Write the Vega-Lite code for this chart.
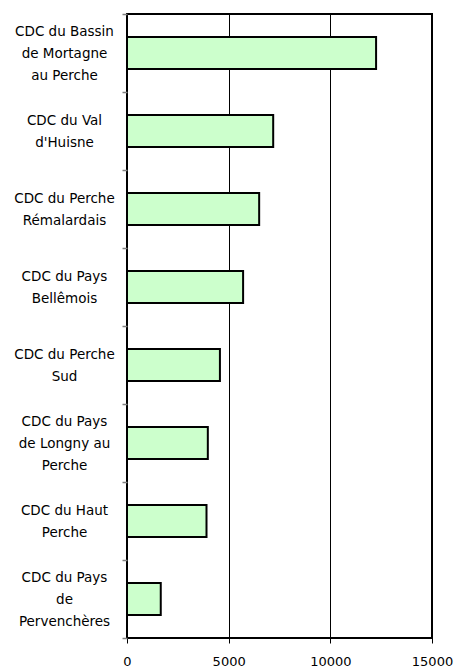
{
  "$schema": "https://vega.github.io/schema/vega-lite/v6.json",
  "width": 305,
  "height": 624,
  "autosize": {"type": "none"},
  "padding": {"left": 127, "top": 14, "right": 22, "bottom": 30},
  "background": "white",
  "config": {
    "view": {"stroke": "black", "strokeWidth": 2},
    "font": "DejaVu Sans"
  },
  "data": {
    "values": [
      {"name": "CDC du Bassin|de Mortagne|au Perche", "value": 12250},
      {"name": "CDC du Val|d'Huisne", "value": 7190},
      {"name": "CDC du Perche|Rémalardais", "value": 6500},
      {"name": "CDC du Pays|Bellêmois", "value": 5710},
      {"name": "CDC du Perche|Sud", "value": 4570},
      {"name": "CDC du Pays|de Longny au|Perche", "value": 3975},
      {"name": "CDC du Haut|Perche", "value": 3910},
      {"name": "CDC du Pays|de|Pervenchères", "value": 1660}
    ]
  },
  "mark": {"type": "bar", "fill": "#ccffcc", "stroke": "black", "strokeWidth": 2, "height": {"band": 0.41}},
  "encoding": {
    "y": {
      "field": "name",
      "type": "nominal",
      "sort": null,
      "scale": {"paddingInner": 0, "paddingOuter": 0},
      "axis": {
        "title": null,
        "domain": false,
        "tickBand": "extent",
        "tickOffset": 0,
        "tickSize": 5,
        "tickColor": "#808080",
        "tickWidth": 1.5,
        "labelExpr": "split(datum.label, '|')",
        "labelAlign": "center",
        "labelBaseline": "middle",
        "labelOffset": {"condition": {"test": "length(split(datum.value, '|')) == 3", "value": -22}, "value": -11},
        "labelPadding": 58,
        "labelLineHeight": 22,
        "labelFontSize": 13.5,
        "labelColor": "black",
        "labelFont": "DejaVu Sans",
        "labelLimit": 0
      }
    },
    "x": {
      "field": "value",
      "type": "quantitative",
      "scale": {"domain": [0, 15000], "nice": false},
      "axis": {
        "title": null,
        "values": [0, 5000, 10000, 15000],
        "format": "d",
        "domain": false,
        "grid": true,
        "gridColor": "black",
        "gridOpacity": 1,
        "gridWidth": 1,
        "tickSize": 5,
        "tickColor": "black",
        "labelPadding": 12,
        "labelBaseline": "top",
        "labelFontSize": 13,
        "labelColor": "black",
        "labelFont": "DejaVu Sans",
        "labelFlush": false,
        "labelOverlap": false
      }
    }
  }
}
